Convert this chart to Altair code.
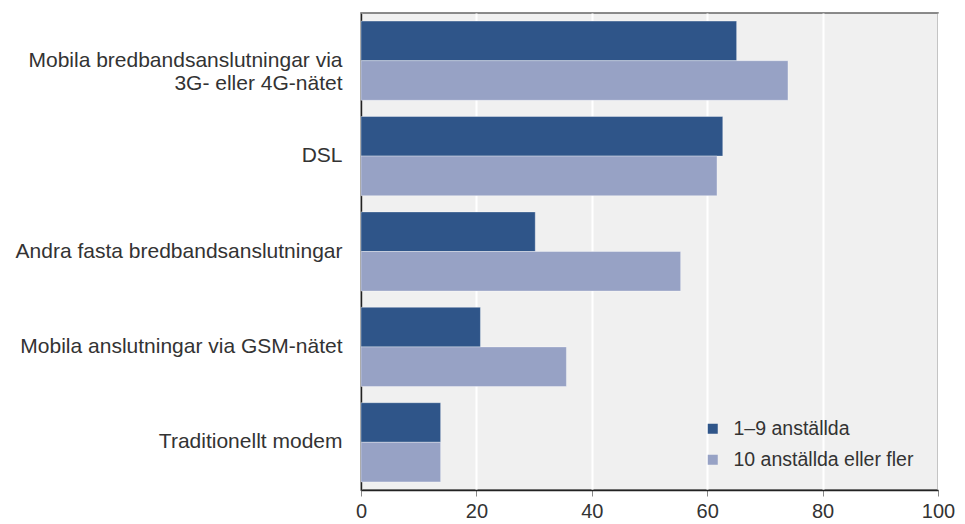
import altair as alt
import pandas as pd

categories = [
    "Mobila bredbandsanslutningar via\n3G- eller 4G-nätet",
    "DSL",
    "Andra fasta bredbandsanslutningar",
    "Mobila anslutningar via GSM-nätet",
    "Traditionellt modem",
]
series = ["1–9 anställda", "10 anställda eller fler"]
small_firms = [65.1, 62.7, 30.2, 20.7, 13.8]
large_firms = [74.0, 61.7, 55.4, 35.6, 13.8]
colors = ["#2f5589", "#97a2c5"]
x_ticks = [0, 20, 40, 60, 80, 100]

rows = []
for c, a, b in zip(categories, small_firms, large_firms):
    rows.append({"kategori": c, "serie": series[0], "andel": a})
    rows.append({"kategori": c, "serie": series[1], "andel": b})
df = pd.DataFrame(rows)

FONT = "Liberation Sans"

chart = (
    alt.Chart(df)
    .mark_bar(stroke="#ffffff", strokeOpacity=0.35, strokeWidth=1)
    .encode(
        x=alt.X(
            "andel:Q",
            scale=alt.Scale(domain=[0, 100], nice=False),
            axis=alt.Axis(
                values=x_ticks,
                title=None,
                grid=True,
                gridColor="#ffffff",
                gridWidth=2,
                domainColor="#222222",
                domainWidth=1.5,
                tickColor="#888888",
                tickSize=6,
                labelFontSize=20,
                labelColor="#333333",
                labelFont=FONT,
                labelPadding=5,
                labelFlush=False,
            ),
        ),
        y=alt.Y(
            "kategori:N",
            sort=categories,
            scale=alt.Scale(paddingInner=0.17, paddingOuter=0.085),
            axis=alt.Axis(
                title=None,
                ticks=False,
                grid=False,
                domainColor="#222222",
                domainWidth=1.5,
                labelFontSize=21,
                labelColor="#333333",
                labelFont=FONT,
                labelPadding=19,
                labelLimit=0,
                labelLineHeight=23,
                labelExpr="split(datum.label, '\\n')",
            ),
        ),
        yOffset=alt.YOffset("serie:N", sort=series, scale=alt.Scale(paddingInner=0, paddingOuter=0)),
        color=alt.Color(
            "serie:N",
            sort=series,
            scale=alt.Scale(domain=series, range=colors),
            legend=alt.Legend(
                title=None,
                orient="none",
                legendX=342,
                legendY=406,
                symbolType="square",
                symbolSize=100,
                symbolStrokeWidth=0,
                labelFontSize=19.5,
                labelFont=FONT,
                labelColor="#333333",
                labelOffset=11,
                labelLimit=0,
                rowPadding=10,
                padding=0,
            ),
        ),
    )
    .properties(
        width=577,
        height=477,
        background="#ffffff",
        padding={"left": 7, "top": 5, "right": 0, "bottom": 5},
    )
    .configure_view(fill="#f0f0f0", stroke="#666666", strokeWidth=1.5)
)

chart.save("out.html", embed_options={"renderer": "svg", "actions": False})
